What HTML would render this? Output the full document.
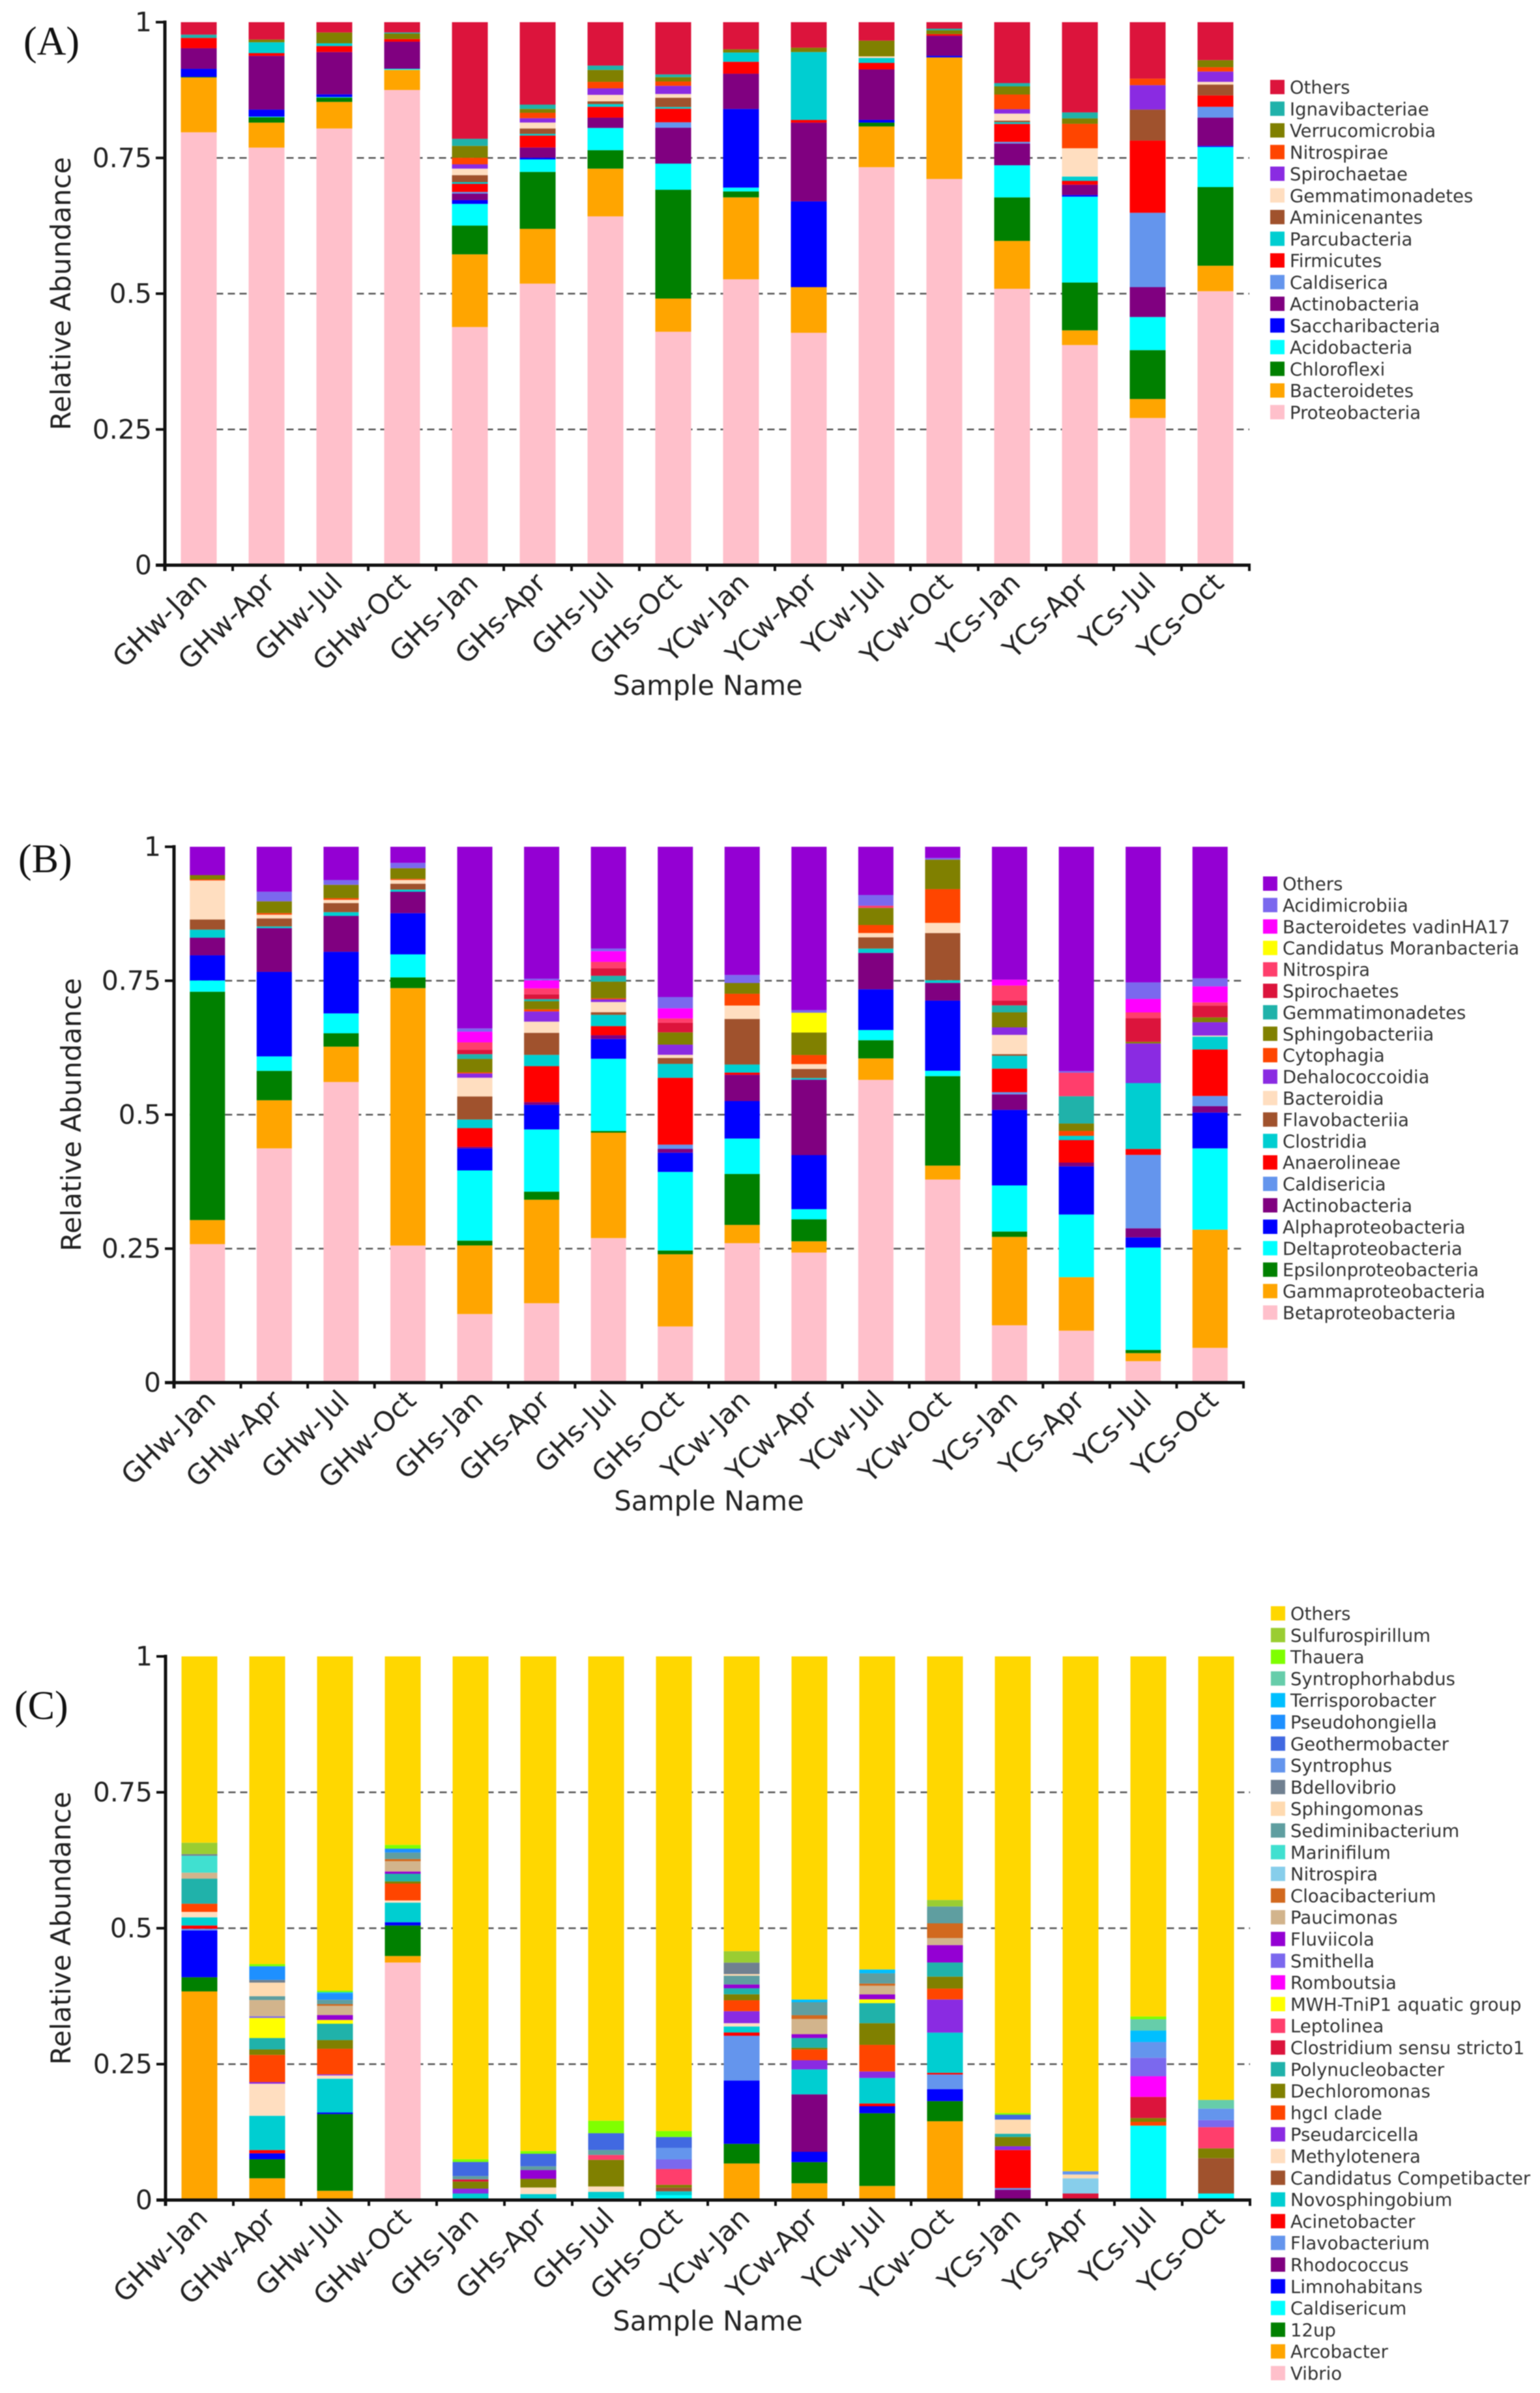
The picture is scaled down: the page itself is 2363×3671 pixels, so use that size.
<!DOCTYPE html>
<html lang="en">
<head>
<meta charset="utf-8">
<title>Relative abundance stacked bars</title>
<style>
html,body{margin:0;padding:0;background:#fff;}
#figure{display:block;width:2363px;height:3671px;filter:blur(0.7px);}
text{font-family:"DejaVu Sans","Liberation Sans",sans-serif;}
</style>
</head>
<body>
<svg id="figure" xmlns="http://www.w3.org/2000/svg" width="2363" height="3671" viewBox="0 0 2363 3671"></svg>
<script>
const categories = ["GHw-Jan","GHw-Apr","GHw-Jul","GHw-Oct","GHs-Jan","GHs-Apr","GHs-Jul","GHs-Oct","YCw-Jan","YCw-Apr","YCw-Jul","YCw-Oct","YCs-Jan","YCs-Apr","YCs-Jul","YCs-Oct"];
const yTickValues = [0,0.25,0.5,0.75,1];
const yTickLabels = ["0","0.25","0.5","0.75","1"];
const gridValues = [0.25,0.5,0.75];

/* Panel A: phylum, percent per sample, bottom to top */
const aNames = ["Proteobacteria","Bacteroidetes","Chloroflexi","Acidobacteria","Saccharibacteria","Actinobacteria","Caldiserica","Firmicutes","Parcubacteria","Aminicenantes","Gemmatimonadetes","Spirochaetae","Nitrospirae","Verrucomicrobia","Ignavibacteriae","Others"];
const aColors = ["#FFC0CB","#FFA500","#008000","#00FFFF","#0000FF","#800080","#6495ED","#FF0000","#00CED1","#A0522D","#FFDEC0","#8A2BE2","#FF4500","#808000","#20B2AA","#DC143C"];
const aProteobacteria = [79.8,76.9,80.5,87.6,43.9,51.9,64.3,42.9,52.7,42.8,73.3,71.2,50.8,40.5,27.1,50.5];
const aBacteroidetes = [10.1,4.6,4.9,3.7,13.4,10.1,8.8,6.1,15.1,8.4,7.5,22.4,8.8,2.7,3.5,4.7];
const aChloroflexi = [0.1,1.0,0.8,0,5.3,10.5,3.4,20.0,1.1,0,0.7,0,8.0,8.8,9.0,14.5];
const aAcidobacteria = [0,0.1,0.1,0.2,4.0,2.3,4.1,4.8,0.7,0,0,0,5.9,15.8,6.1,7.4];
const aSaccharibacteria = [1.5,1.3,0.5,0,0.7,0.3,0,0,14.5,15.8,0.5,0.3,0,0.3,0,0.2];
const aActinobacteria = [3.8,9.9,7.8,5.0,1.2,1.9,1.9,6.6,6.5,14.5,9.3,3.7,4.0,1.9,5.5,5.2];
const aCaldiserica = [0,0,0,0,0.3,0,0,1.0,0,0,0,0,0.3,0,13.7,2.0];
const aFirmicutes = [1.9,0.5,1.1,0.5,1.5,2.2,2.0,2.5,2.2,0.5,1.2,0.3,3.3,0.7,13.3,2.1];
const aParcubacteria = [0,2.0,0.5,0,0.3,0.3,0.5,0.3,1.7,12.5,0.9,0,0.3,0.8,0,0];
const aAminicenantes = [0,0,0,0,1.3,1.0,0.5,1.7,0,0,0,0,0.3,0,5.7,2.0];
const aGemmatimonadetes = [0,0,0,0,1.2,1.1,1.2,0.7,0,0,0.3,0,1.3,5.2,0,0.5];
const aSpirochaetae = [0,0,0,0,0.8,0.8,1.2,1.5,0,0,0,0,0.8,0,4.5,1.9];
const aNitrospirae = [0,0,0,0,1.2,1.0,1.2,0.8,0,0,0,0,2.7,4.5,1.2,0.8];
const aVerrucomicrobia = [0,0.5,2.0,1.0,2.2,0.7,2.2,0.8,0.6,0.8,2.9,0.7,1.5,1.0,0,1.3];
const aIgnavibacteriae = [0.6,0,0,0.2,1.3,0.8,0.8,0.5,0,0,0,0.3,0.6,1.1,0,0];
const aOthers = [2.3,3.2,1.9,1.9,21.5,15.2,8.0,9.6,5.0,4.7,3.4,1.2,11.2,16.6,10.4,7.0];
const aSeries = [aProteobacteria,aBacteroidetes,aChloroflexi,aAcidobacteria,aSaccharibacteria,aActinobacteria,aCaldiserica,aFirmicutes,aParcubacteria,aAminicenantes,aGemmatimonadetes,aSpirochaetae,aNitrospirae,aVerrucomicrobia,aIgnavibacteriae,aOthers];

/* Panel B: class */
const bNames = ["Betaproteobacteria","Gammaproteobacteria","Epsilonproteobacteria","Deltaproteobacteria","Alphaproteobacteria","Actinobacteria","Caldisericia","Anaerolineae","Clostridia","Flavobacteriia","Bacteroidia","Dehalococcoidia","Cytophagia","Sphingobacteriia","Gemmatimonadetes","Spirochaetes","Nitrospira","Candidatus Moranbacteria","Bacteroidetes vadinHA17","Acidimicrobiia","Others"];
const bColors = ["#FFC0CB","#FFA500","#008000","#00FFFF","#0000FF","#800080","#6495ED","#FF0000","#00CED1","#A0522D","#FFDEC0","#8A2BE2","#FF4500","#808000","#20B2AA","#DC143C","#FF3E6C","#FFFF00","#FF00FF","#7B68EE","#9400D3"];
const bBeta = [25.9,43.8,56.1,25.6,12.8,14.8,27.0,10.5,26.0,24.3,56.5,37.9,10.7,9.7,4.0,6.5];
const bGamma = [4.5,9.0,6.6,48.1,12.8,19.3,19.7,13.5,3.4,2.1,4.0,2.6,16.5,10.0,1.5,22.1];
const bEpsilon = [42.7,5.5,2.5,2.0,0.9,1.5,0.3,0.7,9.5,4.1,3.4,16.7,1.0,0,0.6,0];
const bDelta = [2.1,2.7,3.7,4.3,13.1,11.6,13.5,14.7,6.6,1.9,1.9,1.0,8.6,11.7,19.1,15.2];
const bAlpha = [4.7,15.8,11.5,7.7,4.1,4.6,3.7,3.6,7.0,10.1,7.6,13.1,14.1,9.0,1.9,6.7];
const bActinobacteria = [3.3,8.2,6.7,4.0,0.3,0.5,0.7,0.7,4.9,14.1,6.8,3.3,2.9,0.7,1.7,1.2];
const bCaldisericia = [0,0,0,0,0,0,0,0.8,0,0,0,0,0.4,0,13.7,1.9];
const bAnaerolineae = [0,0,0,0,3.5,6.7,1.7,12.5,0.4,0,0,0,4.4,4.2,1.1,8.7];
const bClostridia = [1.5,0.3,0.7,0.4,1.6,2.1,2.1,2.6,1.5,0.3,0.8,0.5,2.4,0.8,12.3,2.4];
const bFlavobacteriia = [1.9,1.5,1.7,1.1,4.3,4.1,0.5,1.1,8.5,1.7,2.1,8.8,0.3,0,0,0];
const bBacteroidia = [7.3,0.7,0.6,0.7,3.5,2.1,1.9,0.6,2.5,0.9,0.8,1.9,3.6,0,0,0.2];
const bDehalococcoidia = [0,0,0,0,0.8,1.9,0.5,1.9,0,0,0,0,1.4,0,7.4,2.5];
const bCytophagia = [0.2,0.3,0.3,0.2,0.2,0.4,0.2,0,2.2,1.7,1.5,6.3,0,0.9,0,0];
const bSphingobacteriia = [0.8,2.2,2.5,2.0,2.5,1.5,3.1,2.3,2.0,4.2,3.2,5.5,2.8,1.4,0.3,0.9];
const bGemmatimonadetes = [0,0,0,0,0.9,0.4,1.1,0,0,0,0,0,1.3,5.1,0,0];
const bSpirochaetes = [0,0,0,0,0.8,0.9,1.4,1.8,0,0,0,0,0.9,0,4.4,2.2];
const bNitrospira = [0,0,0,0,1.4,1.1,1.2,0.8,0,0,0.4,0,2.8,4.4,1.1,0.6];
const bMoranbacteria = [0,0,0,0,0,0,0,0,0,3.7,0,0,0,0,0,0];
const bVadinHA17 = [0,0,0,0,2.0,1.5,2.0,1.9,0,0,0,0,1.1,0,2.5,3.0];
const bAcidimicrobiia = [0,1.8,0.9,1.0,0.6,0.3,0.5,2.1,1.5,0.5,2.0,0.3,0,0.3,3.1,1.5];
const bOthers = [5.3,8.4,6.2,3.0,33.9,24.6,19.0,28.1,23.9,30.5,9.0,2.1,24.8,41.9,25.3,24.6];
const bSeries = [bBeta,bGamma,bEpsilon,bDelta,bAlpha,bActinobacteria,bCaldisericia,bAnaerolineae,bClostridia,bFlavobacteriia,bBacteroidia,bDehalococcoidia,bCytophagia,bSphingobacteriia,bGemmatimonadetes,bSpirochaetes,bNitrospira,bMoranbacteria,bVadinHA17,bAcidimicrobiia,bOthers];

/* Panel C: genus */
const cNames = ["Vibrio","Arcobacter","12up","Caldisericum","Limnohabitans","Rhodococcus","Flavobacterium","Acinetobacter","Novosphingobium","Candidatus Competibacter","Methylotenera","Pseudarcicella","hgcI clade","Dechloromonas","Polynucleobacter","Clostridium sensu stricto1","Leptolinea","MWH-TniP1 aquatic group","Romboutsia","Smithella","Fluviicola","Paucimonas","Cloacibacterium","Nitrospira","Marinifilum","Sediminibacterium","Sphingomonas","Bdellovibrio","Syntrophus","Geothermobacter","Pseudohongiella","Terrisporobacter","Syntrophorhabdus","Thauera","Sulfurospirillum","Others"];
const cColors = ["#FFC0CB","#FFA500","#008000","#00FFFF","#0000FF","#800080","#6495ED","#FF0000","#00CED1","#A0522D","#FFDEC0","#8A2BE2","#FF4500","#808000","#20B2AA","#DC143C","#FF3E6C","#FFFF00","#FF00FF","#7B68EE","#9400D3","#D2B48C","#D2691E","#87CEEB","#40E0D0","#5F9EA0","#FFDAB0","#708090","#6495ED","#4169E1","#1E90FF","#00BFFF","#66CDAA","#7FFF00","#9ACD32","#FFD700"];
const cVibrio = [0,0,0,43.6,0,0,0,0,0,0,0,0,0,0,0,0];
const cArcobacter = [38.3,4.0,1.7,1.2,0,0,0,0,6.7,3.1,2.6,14.5,0,0,0,0];
const c12up = [2.6,3.5,14.1,5.6,0,0,0,0,3.6,3.9,13.4,3.7,0,0,0,0];
const cCaldisericum = [0,0,0,0,0.3,0.3,0.4,0.9,0,0,0,0,0,0,13.7,1.2];
const cLimnohabitans = [8.6,1.1,0.3,0.6,0,0,0,0,11.6,1.9,1.3,2.2,0,0,0,0];
const cRhodococcus = [0,0,0,0,0,0,0,0,0,10.6,0,0,1.9,0,0,0];
const cFlavobacterium = [0.3,0,0,0,0,0,0,0,8.2,0,0,2.7,0.3,0,0,0];
const cAcinetobacter = [0.6,0.6,0,0,0,0,0,0,0.6,0,0.5,0.3,7.0,0,0,0];
const cNovosphingobium = [1.5,6.3,6.2,3.6,0.9,0.8,1.1,0.7,1.1,4.6,4.7,7.4,0,0,0,0];
const cCompetibacter = [0,0,0,0,0,0,0,0.7,0,0,0,0,0,0,0,6.5];
const cMethylotenera = [1.0,5.9,0.6,0.4,0,1.2,1.0,0,0.6,0,0,0,0,0,0,0];
const cPseudarcicella = [0,0.3,0.2,0,0.9,0,0,0,2.2,1.7,1.2,6.1,0.7,0,0,0];
const cHgcI = [1.5,5.0,4.7,3.1,0,0,0,0,2.0,2.0,4.9,2.0,0,0,0.7,0];
const cDechloromonas = [0,1.0,1.6,0.4,1.3,1.6,4.9,0.5,1.1,0.3,4.0,2.2,1.7,0,0.7,1.8];
const cPolynucleobacter = [4.6,2.1,3.0,1.4,0,0,0,0,1.1,1.8,3.7,2.6,0.6,0,0,0];
const cClostridium = [0,0,0,0,0.4,0,0,0,0,0,0,0,0,1.2,3.9,0];
const cLeptolinea = [0,0,0,0,0,0,0.9,2.9,0,0,0,0,0,0,0,3.9];
const cMWH = [0,3.7,0.7,0,0,0,0,0,0,0,0.7,0,0,0,0,0];
const cRomboutsia = [0,0,0,0,0,0,0,0,0,0,0,0,0,0,3.8,0];
const cSmithella = [0,0.3,0,0,0,0,0,1.8,0,0,0,0,0,0,3.4,1.3];
const cFluviicola = [0,0,0.9,0.4,0,1.6,0,0,0.7,0.7,0.9,3.2,0,0,0,0];
const cPaucimonas = [1.1,3.0,1.7,1.9,0,0,0,0,0,2.8,1.6,1.3,0,0,0,0];
const cCloacibacterium = [0,0,0.3,0.4,0,0,0,0,0,0.7,0.4,2.7,0,0,0,0];
const cNitrospira = [0,0,0,0,0,0,0,0,0,0,0,0,0,2.8,0,0];
const cMarinifilum = [3.1,0,0,0,0,0,0,0,0,0,0,0,0,0,0,0];
const cSediminibacterium = [0,0.7,0.8,1.2,0.6,0.7,0.9,0,1.6,2.4,1.9,3.1,0,0,0,0];
const cSphingomonas = [0,2.5,0,0,0,0,0,0,0.3,0,0,0,2.6,0.7,0,0];
const cBdellovibrio = [0.3,0.5,0,0,0,0,0,0,2.1,0,0,0,0,0,0,0];
const cSyntrophus = [0,0,0,0,0,0,0,2.1,0,0,0,0,0,0.6,2.9,2.1];
const cGeothermobacter = [0,0,0,0,2.6,2.3,3.1,2.0,0,0,0,0,0.9,0,0,0];
const cPseudohongiella = [0,2.5,1.2,0.7,0,0,0,0,0,0,0,0,0,0,0,0];
const cTerrisporobacter = [0,0,0.2,0,0,0,0,0,0,0.5,0.7,0,0,0,2.1,0];
const cSyntrophorhabdus = [0,0,0,0,0,0,0,0,0,0,0,0,0,0,2.1,1.6];
const cThauera = [0,0.4,0.3,0.7,0.5,0.5,2.3,1.1,0,0,0,0,0.3,0,0.5,0];
const cSulfurospirillum = [2.1,0,0,0,0,0,0,0,2.1,0,0,1.2,0,0,0,0];
const cOthers = [34.2,56.6,61.4,34.6,92.4,90.8,85.4,87.3,54.0,63.3,57.7,44.8,84.0,94.7,66.3,81.5];
const cSeries = [cVibrio,cArcobacter,c12up,cCaldisericum,cLimnohabitans,cRhodococcus,cFlavobacterium,cAcinetobacter,cNovosphingobium,cCompetibacter,cMethylotenera,cPseudarcicella,cHgcI,cDechloromonas,cPolynucleobacter,cClostridium,cLeptolinea,cMWH,cRomboutsia,cSmithella,cFluviicola,cPaucimonas,cCloacibacterium,cNitrospira,cMarinifilum,cSediminibacterium,cSphingomonas,cBdellovibrio,cSyntrophus,cGeothermobacter,cPseudohongiella,cTerrisporobacter,cSyntrophorhabdus,cThauera,cSulfurospirillum,cOthers];

const NS = "http://www.w3.org/2000/svg";
const root = document.getElementById("figure");

function el(tag, attrs, parent) {
  const n = document.createElementNS(NS, tag);
  for (const k in attrs) n.setAttribute(k, attrs[k]);
  parent.appendChild(n);
  return n;
}
function slug(s) {
  return s.toLowerCase().replace(/[^a-z0-9]+/g, "-").replace(/^-|-$/g, "");
}

function drawPanel(p) {
  const g = el("g", {}, root);
  
  

  const band = (p.xEnd - p.x0) / categories.length;
  const xOf = i => p.x0 + band * (i + 0.5);
  const yOf = v => p.y0 + (p.y1 - p.y0) * v;

  const letter = el("text", {x: p.letterX, y: p.letterY, "font-size": 62, fill: "#111", style: 'font-family:"Liberation Serif",serif'}, g);
  letter.textContent = "(" + p.id.toUpperCase() + ")";
  
  

  gridValues.forEach(v => {
    const line = el("line", {x1: xOf(0) - p.barW / 2, x2: p.xEnd, y1: yOf(v), y2: yOf(v), stroke: "#555", "stroke-width": 2.4, "stroke-dasharray": "11 7"}, g);
    
    
  });

  categories.forEach((cat, i) => {
    const total = p.series.reduce((s, arr) => s + arr[i], 0);
    let cum = 0;
    p.series.forEach((arr, k) => {
      const val = arr[i];
      if (val <= 0) return;
      const yTop = yOf((cum + val) / total);
      const yBot = yOf(cum / total);
      cum += val;
      const r = el("rect", {x: xOf(i) - p.barW / 2, y: yTop, width: p.barW, height: Math.max(yBot - yTop, 0.5), fill: p.colors[k]}, g);
      
      
    });
  });

  const yAxis = el("line", {x1: p.x0, x2: p.x0, y1: yOf(1) - 2.5, y2: yOf(0) + 9, stroke: "#111", "stroke-width": 5}, g);
  
  
  const xAxis = el("line", {x1: p.x0 - 14, x2: p.xEnd + 2, y1: yOf(0), y2: yOf(0), stroke: "#111", "stroke-width": 5}, g);
  
  

  yTickValues.forEach((v, i) => {
    const t = el("line", {x1: p.x0 - 14, x2: p.x0, y1: yOf(v), y2: yOf(v), stroke: "#111", "stroke-width": i === 0 ? 5 : 4}, g);
    
    
    const lab = el("text", {x: p.x0 - 20, y: yOf(v) + 14, "font-size": 41, "text-anchor": "end", fill: "#222"}, g);
    lab.textContent = yTickLabels[i];
    
    
  });

  for (let i = 0; i <= categories.length; i++) {
    const x = p.x0 + band * i;
    const t = el("line", {x1: x, x2: x, y1: yOf(0), y2: yOf(0) + 9, stroke: "#111", "stroke-width": 4}, g);
    
    
  }

  categories.forEach((cat, i) => {
    const lx = xOf(i) + 15;
    const ly = yOf(0) + 30;
    const lab = el("text", {x: lx, y: ly, "font-size": 42.5, "text-anchor": "end", fill: "#222", transform: "rotate(-45 " + lx + " " + ly + ")"}, g);
    lab.textContent = cat;
    
    
  });

  const yt = el("text", {x: 0, y: 0, "font-size": 42, "text-anchor": "middle", fill: "#222", transform: "translate(" + p.yTitleX + " " + (yOf(0.5)) + ") rotate(-90)"}, g);
  yt.textContent = "Relative Abundance";
  
  

  const xt = el("text", {x: p.xTitleX, y: p.xTitleY, "font-size": 41.5, "text-anchor": "middle", fill: "#222"}, g);
  xt.textContent = "Sample Name";
  
  

  const n = p.names.length;
  for (let k = n - 1; k >= 0; k--) {
    const row = n - 1 - k;
    const cy = p.legY + row * p.legDy;
    const sw = el("rect", {x: p.legX, y: cy - 11, width: 22, height: 22, fill: p.colors[k]}, g);
    
    
    const tx = el("text", {x: p.legX + 30, y: cy + 10, "font-size": 27.5, fill: "#333"}, g);
    tx.textContent = p.names[k];
    
    
  }
}

drawPanel({id: "a", series: aSeries, names: aNames, colors: aColors, x0: 253, xEnd: 1917, y1: 34, y0: 867, barW: 55, letterX: 36, letterY: 84, yTitleX: 108, xTitleX: 1086, xTitleY: 1066, legX: 1949, legY: 133.5, legDy: 33.25});
drawPanel({id: "b", series: bSeries, names: bNames, colors: bColors, x0: 267, xEnd: 1908, y1: 1299, y0: 2121, barW: 54, letterX: 28, letterY: 1338, yTitleX: 124, xTitleX: 1088, xTitleY: 2317, legX: 1938, legY: 1355.5, legDy: 32.9});
drawPanel({id: "c", series: cSeries, names: cNames, colors: cColors, x0: 254, xEnd: 1918, y1: 2541, y0: 3375, barW: 55, letterX: 22, letterY: 2637, yTitleX: 108, xTitleX: 1086, xTitleY: 3575, legX: 1950, legY: 2475, legDy: 33.3});
</script>
</body>
</html>
